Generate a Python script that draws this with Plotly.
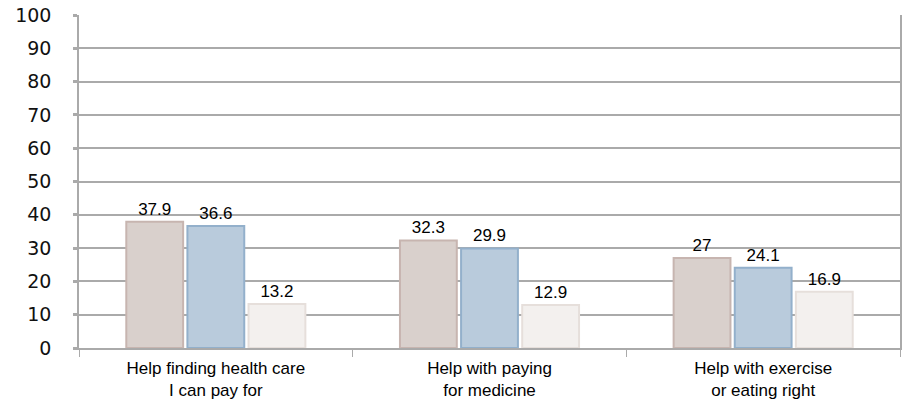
import plotly.graph_objects as go

categories = ["Help finding health care<br>I can pay for", "Help with paying<br>for medicine", "Help with exercise<br>or eating right"]
series_a = [37.9, 32.3, 27]
series_b = [36.6, 29.9, 24.1]
series_c = [13.2, 12.9, 16.9]
y_ticks = [0, 10, 20, 30, 40, 50, 60, 70, 80, 90, 100]

fills = ["#d9d0cc", "#b9cbdc", "#f3f0ee"]
borders = ["#c7b5b0", "#93b0cb", "#e6dfdb"]

fig = go.Figure()
for vals, fc, bc in zip([series_a, series_b, series_c], fills, borders):
    fig.add_trace(go.Bar(
        x=categories, y=vals,
        marker=dict(color=fc, line=dict(color=bc, width=2)),
        text=[f"{v:g}" for v in vals], textposition="outside",
        textfont=dict(family="Liberation Sans, Arial", size=17, color="#000"),
        cliponaxis=False,
    ))

fig.update_layout(
    width=903, height=405,
    margin=dict(l=79, r=1, t=15, b=57),
    paper_bgcolor="white", plot_bgcolor="white",
    showlegend=False,
    barmode="group", bargap=0.33, bargroupgap=0.07,
)
fig.update_yaxes(
    range=[0, 100], tickvals=y_ticks,
    showgrid=True, gridcolor="#aaaaaa", gridwidth=1.5,
    showline=True, linecolor="#aaaaaa", linewidth=1.5, mirror=True,
    ticks="outside", ticklen=4, tickcolor="#aaaaaa", tickwidth=3,
    ticklabelstandoff=18,
    tickfont=dict(family="DejaVu Sans", size=19, color="#111"),
    zeroline=False,
)
fig.update_xaxes(
    showline=True, linecolor="#aaaaaa", linewidth=1.5,
    tickson="boundaries", ticks="outside", ticklen=7, tickcolor="#aaaaaa",
    ticklabelstandoff=4,
    tickfont=dict(family="Liberation Sans, Arial", size=17, color="#000"),
)
fig.write_html("out.html")
